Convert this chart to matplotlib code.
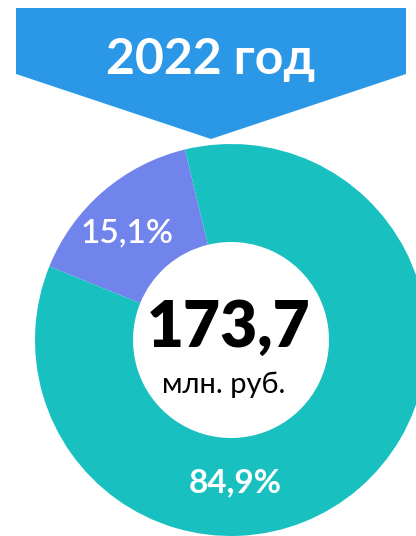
import matplotlib
matplotlib.use("Agg")
import matplotlib.pyplot as plt
from matplotlib.patches import Polygon

# Data
year_label = "2022 год"
categories = ["Категория A", "Категория B"]
shares = [15.1, 84.9]
total_value = "173,7"
unit_label = "млн. руб."
colors = ["#7084EC", "#18C0C0"]
banner_color = "#2B97E7"

W, H = 416, 536
fig = plt.figure(figsize=(W / 100, H / 100), dpi=100)
ax = fig.add_axes([0, 0, 1, 1])

cx, cy = 231, H - 340
R = 196
ax.pie(shares, colors=colors, startangle=103.6, counterclock=True,
       center=(cx, cy), radius=R,
       wedgeprops=dict(width=R / 2, edgecolor="none", linewidth=0))

ax.set_xlim(0, W)
ax.set_ylim(0, H)
ax.set_aspect("auto")
ax.axis("off")

# Banner
banner = Polygon([(16, H - 8), (406, H - 8), (406, H - 74), (211, H - 139), (16, H - 74)],
                 closed=True, facecolor=banner_color, edgecolor="none", zorder=3)
ax.add_patch(banner)
ax.text(211, H - 60, year_label, color="white", fontsize=36, fontweight="bold",
        family="Lato", ha="center", va="center", zorder=4)

def fmt(v):
    return f"{v:.1f}".replace(".", ",") + "%"

ax.text(127, H - 233, fmt(shares[0]), color="white", fontsize=24, fontweight="semibold",
        family="Lato", ha="center", va="center")
ax.text(235, H - 483, fmt(shares[1]), color="white", fontsize=24, fontweight="bold",
        family="Lato", ha="center", va="center")

ax.text(229, H - 328, total_value, color="black", fontsize=46, fontweight="heavy",
        family="Lato", ha="center", va="center")
ax.text(224, H - 385, unit_label, color="black", fontsize=21, fontweight="normal",
        family="Lato", ha="center", va="center")

fig.savefig("out.png", dpi=100)
